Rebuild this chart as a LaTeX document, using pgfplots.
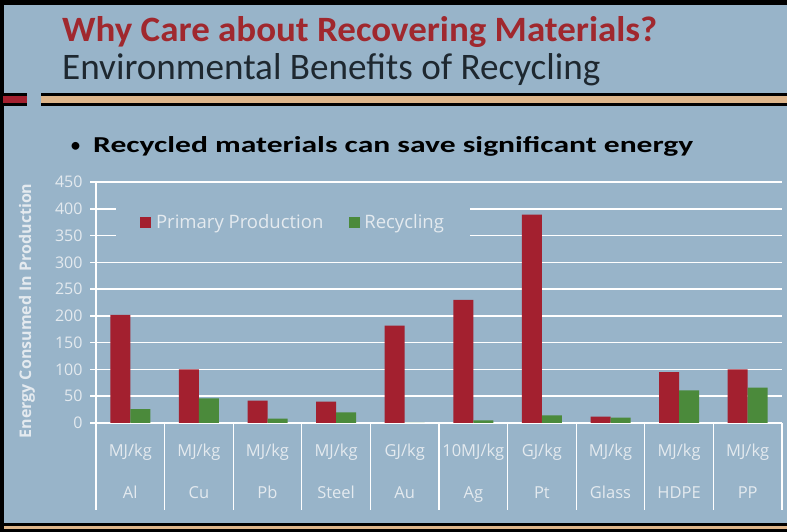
\documentclass[border=0pt]{standalone}
\usepackage{fontspec}
\setmainfont{Carlito}
\newfontfamily\chartfont{Open Sans}
\usepackage{pgfplots}
\pgfplotsset{compat=1.18}
\definecolor{bg}{HTML}{98B4C9}
\definecolor{barred}{HTML}{A3202F}
\definecolor{bargreen}{HTML}{4B8A3B}
\definecolor{titlered}{HTML}{A0282E}
\definecolor{subdark}{HTML}{1E2830}
\definecolor{tanband}{HTML}{DDB58A}
\definecolor{lighttext}{HTML}{E4EAEF}
\begin{document}
\begin{tikzpicture}
\useasboundingbox (0,0) rectangle (787pt,532pt);
\fill[black] (0,0) rectangle (787pt,532pt);
\fill[bg] (4pt,9pt) rectangle (787pt,527pt);
\fill[tanband] (4pt,3pt) rectangle (787pt,6pt);
\fill[black] (3pt,426pt) rectangle (27pt,439pt);
\fill[black] (41pt,426pt) rectangle (787pt,439pt);
\fill[barred] (3pt,429pt) rectangle (27pt,436pt);
\fill[tanband] (41pt,429pt) rectangle (787pt,436pt);
\node[anchor=base west, inner sep=0, text=titlered] at (62pt,490pt) {\resizebox{595pt}{25pt}{\bfseries Why Care about Recovering Materials?}};
\node[anchor=base west, inner sep=0, text=subdark] at (62pt,452pt) {\resizebox{538pt}{26pt}{Environmental Benefits of Recycling}};
\node[anchor=base west, inner sep=0, text=black] at (70pt,379pt) {\fontsize{22pt}{24pt}\selectfont\textbullet};
\node[anchor=base west, inner sep=0, text=black] at (93pt,379pt) {\resizebox{600pt}{16pt}{\bfseries Recycled materials can save significant energy}};
\begin{axis}[
  at={(96pt,109pt)}, anchor=south west,
  scale only axis, width=686pt, height=241pt,
  xmin=-0.5, xmax=9.5, ymin=0, ymax=450,
  ytick={0,50,...,450},
  xtick={0,...,9},
  xticklabels={{MJ/kg\\[22pt]Al},{MJ/kg\\[22pt]Cu},{MJ/kg\\[22pt]Pb},{MJ/kg\\[22pt]Steel},{GJ/kg\\[22pt]Au},{10MJ/kg\\[22pt]Ag},{GJ/kg\\[22pt]Pt},{MJ/kg\\[22pt]Glass},{MJ/kg\\[22pt]HDPE},{MJ/kg\\[22pt]PP}},
  xticklabel style={align=center, font=\chartfont\fontsize{16.5pt}{20pt}\selectfont, text=lighttext, anchor=north, yshift=-11pt},
  yticklabel style={font=\chartfont\fontsize{16pt}{19pt}\selectfont, text=lighttext, xshift=-4pt},
  /pgf/number format/assume math mode=true,
  x tick style={draw=none},
  y tick style={white, line width=1.5pt},
  major tick length=6pt, tick align=outside,
  ymajorgrids, grid style={white, line width=1.5pt},
  axis x line*=bottom, axis y line*=left,
  axis line style={white, line width=1.5pt, -},
  ylabel={Energy Consumed In Production},
  every axis y label/.style={at={(axis description cs:-0.1006,0.465)}, rotate=90, anchor=center, font=\chartfont\bfseries\fontsize{16pt}{18pt}\selectfont, text=lighttext},
  ybar=0pt, bar width=20pt,
  clip=false,
  legend style={fill=bg, draw=none, at={(axis description cs:0.029,0.834)}, anchor=west,
    legend columns=2, font=\chartfont\fontsize{18.5pt}{21pt}\selectfont, text=lighttext,
    inner xsep=24pt, inner ysep=9pt,
    /tikz/every even column/.append style={column sep=24pt}},
  legend image code/.code={\fill[#1] (0pt,-5.5pt) rectangle (11pt,5.5pt);},
]
\addplot[fill=barred, draw=none] coordinates {(0,202) (1,100) (2,42) (3,40) (4,182) (5,230) (6,389) (7,12) (8,95) (9,100)};
\addplot[fill=bargreen, draw=none] coordinates {(0,26) (1,46) (2,8) (3,20) (4,0) (5,5) (6,14) (7,10) (8,61) (9,66)};
\legend{\hspace*{3pt}Primary Production, \hspace*{2pt}Recycling}
\pgfplotsinvokeforeach{-0.5,0.5,1.5,2.5,3.5,4.5,5.5,6.5,7.5,8.5,9.5}{
  \draw[white, line width=1.3pt] (axis cs:#1,0) -- ++(0pt,-87pt);
}
\end{axis}
\end{tikzpicture}
\end{document}
